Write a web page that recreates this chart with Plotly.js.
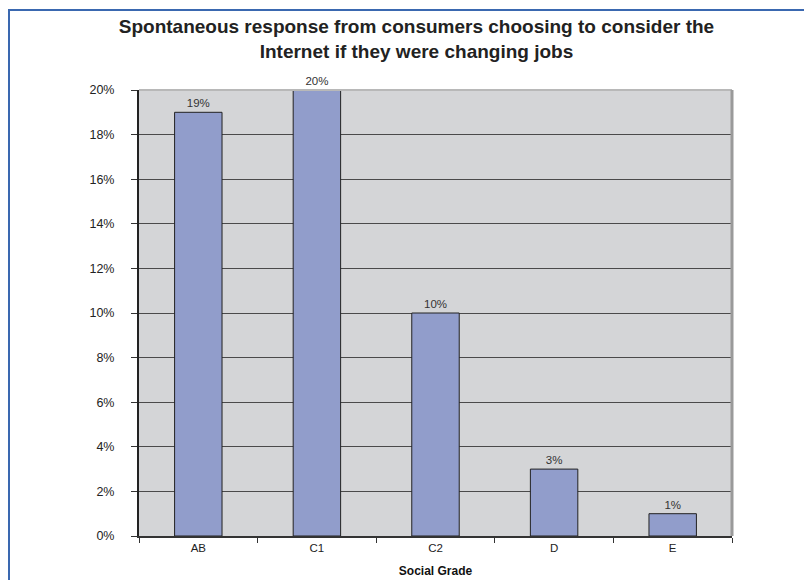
<!DOCTYPE html>
<html>
<head>
<meta charset="utf-8">
<script src="https://cdn.plot.ly/plotly-3.0.1.min.js"></script>
<style>
  html, body { margin: 0; padding: 0; background: #fff; }
  #wrap { position: relative; width: 804px; height: 580px; }
  #chart { position: absolute; left: 0; top: 0; width: 804px; height: 580px; }
  #frame { position: absolute; left: 8px; top: 9px; width: 810px; height: 600px;
           border-top: 2px solid #3A68B0; border-left: 2px solid #3A68B0; pointer-events: none; }
</style>
</head>
<body>
<div id="wrap">
  <div id="chart"></div>
  <div id="frame"></div>
</div>
<script>
const categories = ["AB", "C1", "C2", "D", "E"];
const values = [0.19, 0.20, 0.10, 0.03, 0.01];
const yTickVals = [0, 0.02, 0.04, 0.06, 0.08, 0.10, 0.12, 0.14, 0.16, 0.18, 0.20];
const titleText = "Spontaneous response from consumers choosing to consider the<br>Internet if they were changing jobs";
const xTitle = "Social Grade";

const font = "Liberation Sans, Arial, Helvetica, sans-serif";

const trace = {
  type: "bar",
  x: categories,
  y: values,
  marker: { color: "#919DCB", line: { color: "#222222", width: 1 } },
  texttemplate: "%{y:.0%}",
  textposition: "outside",
  textfont: { family: font, size: 11.5, color: "#333333" },
  cliponaxis: false,
  hoverinfo: "none"
};

const layout = {
  width: 804,
  height: 580,
  margin: { l: 139, r: 72, t: 90, b: 44 },
  paper_bgcolor: "#ffffff",
  plot_bgcolor: "#D4D5D7",
  showlegend: false,
  bargap: 0.6,
  title: {
    text: titleText,
    font: { family: font, size: 19, color: "#222222", weight: "bold" },
    xref: "container", x: 0.518, xanchor: "center",
    yref: "container", y: 0.943, yanchor: "top"
  },
  xaxis: {
    type: "category",
    tickson: "boundaries",
    ticks: "outside",
    ticklen: 5,
    tickcolor: "#333333",
    showline: true,
    linecolor: "#333333",
    linewidth: 2,
    showgrid: false,
    tickfont: { family: font, size: 11.5, color: "#222222" },
    title: { text: xTitle, font: { family: font, size: 12, color: "#111111", weight: "bold" }, standoff: 14 }
  },
  yaxis: {
    range: [0, 0.2],
    tickvals: yTickVals,
    tickformat: ".0%",
    ticks: "outside",
    ticklen: 6,
    tickcolor: "#333333",
    ticklabelstandoff: 14,
    showline: true,
    linecolor: "#222222",
    linewidth: 2,
    showgrid: true,
    gridcolor: "#4A4A4A",
    gridwidth: 1,
    zeroline: false,
    tickfont: { family: font, size: 12.5, color: "#222222" }
  },
  shapes: [
    { type: "line", xref: "paper", yref: "paper", x0: 0, x1: 1, y0: 1, y1: 1,
      line: { color: "#B8B8B8", width: 2 }, layer: "above" },
    { type: "line", xref: "paper", yref: "paper", x0: 1, x1: 1, y0: 0, y1: 1,
      line: { color: "#9A9A9A", width: 3 }, layer: "above" }
  ]
};

Plotly.newPlot("chart", [trace], layout, { displayModeBar: false, staticPlot: true });
</script>
</body>
</html>
